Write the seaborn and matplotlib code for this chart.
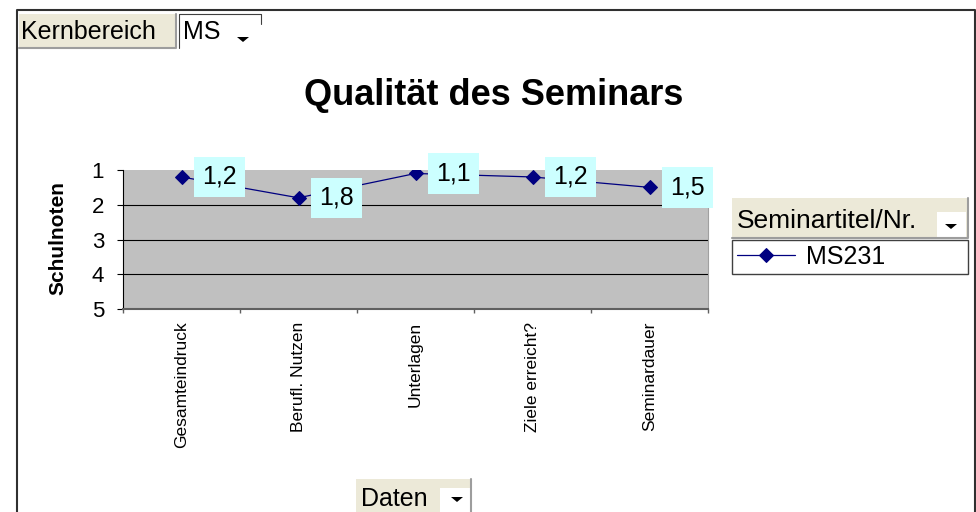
import numpy as np
import pandas as pd
import seaborn as sns
import matplotlib.pyplot as plt
from matplotlib.patches import Rectangle, Polygon
from matplotlib.lines import Line2D

# data
kategorien = ["Gesamteindruck", "Berufl. Nutzen", "Unterlagen", "Ziele erreicht?", "Seminardauer"]
noten = [1.2, 1.8, 1.1, 1.2, 1.5]
serie = "MS231"
y_ticks = [1, 2, 3, 4, 5]

W, H = 976, 512
sns.set_theme(style="white")
plt.rcParams['font.family'] = ['Liberation Sans', 'DejaVu Sans']
plt.rcParams['text.color'] = 'black'
plt.rcParams['xtick.color'] = 'black'
plt.rcParams['ytick.color'] = 'black'
plt.rcParams['xtick.labelcolor'] = 'black'
plt.rcParams['ytick.labelcolor'] = 'black'

fig = plt.figure(figsize=(W / 100, H / 100), dpi=100)
fig.patch.set_facecolor('white')


def fx(x):
    return x / W


def fy(y):
    return 1 - y / H


def box(x0, y0, x1, y1, fc, edge3d=True):
    fig.add_artist(Rectangle((fx(x0), fy(y1)), (x1 - x0) / W, (y1 - y0) / H,
                             transform=fig.transFigure, fc=fc, ec='none'))
    if edge3d:
        fig.add_artist(Line2D([fx(x0), fx(x1), fx(x1)], [fy(y1), fy(y1), fy(y0)],
                              transform=fig.transFigure, color='#9D9D9D', lw=1.5))


def arrow(xc, yc):
    fig.add_artist(Polygon([(fx(xc - 6), fy(yc - 2)), (fx(xc + 6), fy(yc - 2)), (fx(xc), fy(yc + 3))],
                           closed=True, transform=fig.transFigure, fc='black', ec='none'))


# chart area
ax = fig.add_axes([fx(123), fy(309), (708 - 123) / W, (309 - 170) / H])
ax.set_facecolor('#C0C0C0')
ax.set_axisbelow(True)

df = pd.DataFrame({'pos': np.arange(len(kategorien)), 'note': noten})
sns.lineplot(data=df, x='pos', y='note', ax=ax, color='#000080', linewidth=0.9,
             marker='D', markersize=7, markeredgecolor='#000080', label=serie)

ax.set_xlim(-0.5, len(kategorien) - 0.5)
ax.set_ylim(5, 1)
ax.set_yticks(y_ticks)
ax.set_yticklabels([str(t) for t in y_ticks], fontsize=16)
ax.set_xticks(np.arange(len(kategorien)))
ax.set_xticklabels(kategorien, rotation=90, fontsize=12.5)
ax.set_xticks(np.arange(len(kategorien) + 1) - 0.5, minor=True)
ax.tick_params(axis='x', which='major', length=0, pad=9, bottom=True)
ax.tick_params(axis='x', which='minor', length=3, width=1, color='#606060', bottom=True)
ax.tick_params(axis='y', length=4.5, width=0.8, color='black', pad=9, left=True)
ax.set_xlabel('')
ax.set_ylabel('')
ax.grid(axis='y', color='black', lw=0.8)
ax.get_ygridlines()[0].set_visible(False)

ax.spines['top'].set_visible(False)
ax.spines['left'].set_color('black')
ax.spines['left'].set_linewidth(0.8)
ax.spines['bottom'].set_color('#606060')
ax.spines['bottom'].set_linewidth(1.5)
ax.spines['right'].set_color('#A0A0A0')
ax.spines['right'].set_linewidth(0.8)

# data labels
for i, v in enumerate(noten):
    ax.annotate(f"{v:.1f}".replace('.', ','), (i, v), xytext=(15, 0), textcoords='offset points',
                ha='left', va='center', fontsize=18,
                bbox=dict(boxstyle='square,pad=0.33', fc='#CCFFFF', ec='none'),
                annotation_clip=False)

# legend
leg = ax.legend(loc='center left', bbox_to_anchor=(fx(732), fy(274), (968 - 732) / W, 34 / H),
                bbox_transform=fig.transFigure, mode='expand', borderaxespad=0, borderpad=0.2,
                handlelength=2.3, handletextpad=0.45, fontsize=18, frameon=True,
                fancybox=False, framealpha=1, edgecolor='#404040')
leg.get_frame().set_linewidth(1)

# titles
fig.text(fx(494), fy(105), "Qualität des Seminars", ha='center', va='baseline',
         fontsize=26, fontweight='bold')
fig.text(fx(58), fy(238), "Schulnoten", ha='center', va='center', rotation=90,
         fontsize=15, fontweight='bold')

# outer frame
fig.add_artist(Line2D([fx(17), fx(17), fx(975), fx(975)], [fy(512), fy(10), fy(10), fy(512)],
                      transform=fig.transFigure, color='#303030', lw=1.5))

# field buttons
box(19, 14, 176, 48, '#ECE9D8')
fig.text(fx(21), fy(39), "Kernbereich", ha='left', va='baseline', fontsize=18)
fig.add_artist(Line2D([fx(179), fx(179), fx(261), fx(261)], [fy(48), fy(14), fy(14), fy(24)],
                      transform=fig.transFigure, color='#404040', lw=0.8))
fig.text(fx(183), fy(39), "MS", ha='left', va='baseline', fontsize=18)
arrow(243, 39)

box(732, 198, 968, 238, '#ECE9D8')
box(937, 212, 966, 238, 'white', edge3d=False)
fig.text(fx(737), fy(228), "Seminartitel/Nr.", ha='left', va='baseline', fontsize=19)
arrow(951, 226)

box(356, 479, 471, 514, '#ECE9D8')
box(440, 488, 470, 514, 'white', edge3d=False)
fig.text(fx(361), fy(506), "Daten", ha='left', va='baseline', fontsize=18)
arrow(457, 499)

fig.savefig('out.png', dpi=100)
